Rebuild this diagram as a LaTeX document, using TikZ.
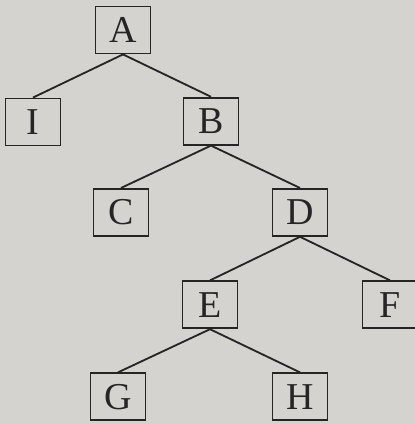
\documentclass[tikz,border=0pt]{standalone}
\usepackage{tikz}
\usepackage{fontspec}
\setmainfont{Liberation Serif}
\definecolor{paper}{RGB}{212,211,208}
\definecolor{ink}{RGB}{38,36,36}

\begin{document}
\begin{tikzpicture}[thick, font=\fontsize{27}{30}\selectfont,
		box/.style={draw=ink, line width=1.3pt, text=ink, minimum width=1.375cm, minimum height=1.175cm, inner sep=0pt},
		edge/.style={draw=ink, line width=1.3pt}]
		% page
		\fill[paper] (0,0) rectangle (10.375,10.6);
		\useasboundingbox (0,0) rectangle (10.375,10.6);
		% nodes
		\node[box] (A) at (3.075,9.85) {A};
		\node[box] (I) at (0.825,7.55) {I};
		\node[box] (B) at (5.275,7.57) {B};
		\node[box] (C) at (3.025,5.29) {C};
		\node[box] (D) at (7.5,5.29) {D};
		\node[box] (E) at (5.25,2.98) {E};
		\node[box] (F) at (9.75,2.98) {F};
		\node[box] (G) at (2.95,0.68) {G};
		\node[box] (H) at (7.5,0.68) {H};
		% edges
		\draw[edge] (A.south) -- (I.north);
		\draw[edge] (A.south) -- (B.north);
		\draw[edge] (B.south) -- (C.north);
		\draw[edge] (B.south) -- (D.north);
		\draw[edge] (D.south) -- (E.north);
		\draw[edge] (D.south) -- (F.north);
		\draw[edge] (E.south) -- (G.north);
		\draw[edge] (E.south) -- (H.north);
	\end{tikzpicture}
\end{document}
